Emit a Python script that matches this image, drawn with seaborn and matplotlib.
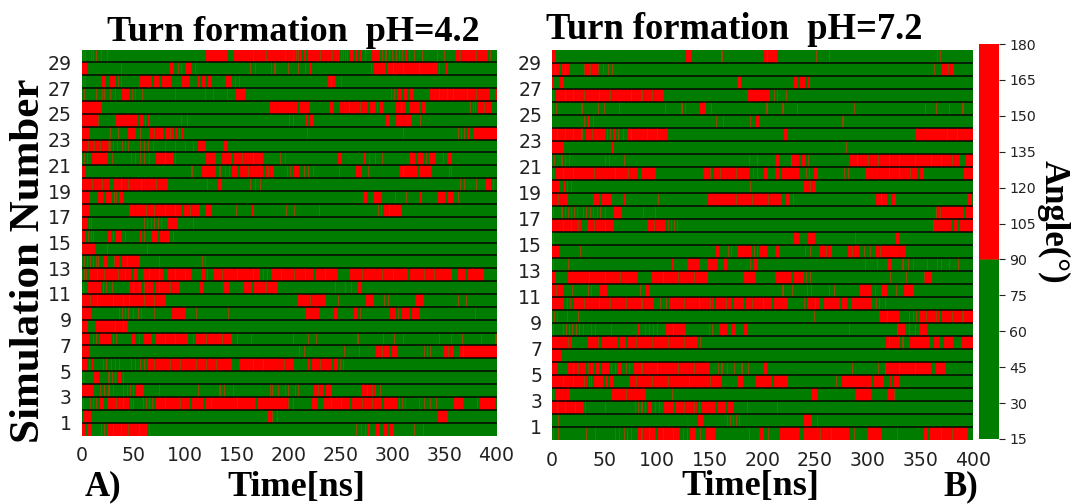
#!/usr/bin/env python3
"""Turn formation per simulation over time at two pH values."""

import matplotlib
matplotlib.use("Agg")
import matplotlib.pyplot as plt
import numpy as np
import seaborn as sns
from matplotlib.colors import LinearSegmentedColormap

# one list per simulation, top row first; (start, end) in ns are turn spans,
# a bare number is a short flicker around 90 degrees at that time
PH42_ROWS = [
    [1, 3.5, 9, 11, 14, 19, 25, (120, 141), (146, 207), 207.5, 209, (211, 213), (214, 216), (217, 249), 250, 252, 254, 256, (259, 262), (264, 266), (268, 270), 273, (279, 288), 290, 293, 296, 299, 303, 306, 309, (312, 314), 316, 320, 328, 343, 349, (360, 392), 394, 165, 178, 196, 204, 230, 241, 365, 380],
    [(0, 5), 38.5, (85, 89), 93, 96, (100, 106), 109, 162, 167, 183, 186, 199, 209.5, 215, (219, 221), 279, (281, 293), (294, 344), 345, (350, 353), 300, 310, 325],
    [1, 3, (19, 24), (27, 33), 35, 38, (55, 67.5), (70, 75), (78, 86), (96.5, 104.5), (111, 114), (116, 119), (122, 125), (138, 145), 148, 152, (237, 244), 250.5, 240],
    [2, 14, 20, 22, 27, 32, (39, 43), (43.5, 46), 49, 52, 58, 90, 119, 127, 140, (149.5, 157.5), 298, 301, (304.5, 308.5), (311.5, 314), (316, 319.5), (335, 394), (399, 400), 345, 352, 358, 372, 380],
    [(0, 20), (182, 188), (189.5, 208), (210, 213), (213.5, 219.5), (239.5, 242), (249, 251.5), (253, 276), (278, 284), 285, (287, 290.5), (303, 313), (316.5, 326), (328, 332), 374, 377, 379, (382, 395), 258, 268, 308, 388],
    [(0, 15), 16.5, (32, 54), (56, 59), 61, (63, 66), 96.5, 102, 200, 204, (216, 218), (220, 222.5), (293.5, 296.5), (303, 310), (311, 319), 326],
    [(0, 7), 27, 35.5, (45, 53), 56, (65, 79), (80, 88), (90, 92), 94, (96, 98), 217.5, 310, 363, 366, 369, (372, 374), (377.5, 400), 70, 85],
    [(0, 25), 26, 27.5, 30, 34, 39, 42, 45, 56, 60, 64, 69, 80, 90, 100, 107, (112.5, 119), (136, 140), 6, 12, 18],
    [2, 5, (10, 26), 29, 48, 52, 56, 60, 65, (72, 88), 90, (119, 130), (135, 145), (147, 175), 191, 196, (247, 250.5), (271, 274), 277, 283.5, 290, (316.5, 321), (324.5, 330), 332, (335, 342), 348, (352, 356.5), 80, 155, 165],
    [(0, 3), 106, (116, 130), 133, 138, 142, (145, 150), (153, 175), (177, 186), 198, 201, (204, 209.5), 214, 218, 223, 248, (265.5, 269), 276, (307, 323), (325.5, 337), 354, 356, 160, 180, 310],
    [(0, 27), (30, 50), (51.5, 63), (64, 83), 121, (132, 135), 162, 167, 172, 365, 369, 380, (389.5, 395), 397, 10, 20, 38, 45, 57, 72],
    [(0, 8), (16, 21), (24, 29), 31, 33, (36, 40), (271, 274.5), (281.5, 288.5), 302, 313, (325, 328), (343.5, 350), (353, 357.5), 363],
    [(0, 6.5), (46.5, 51.5), (53, 96.5), (98, 114), (119.5, 124.5), 149, (164, 166), 197, 205, 229, 286, 289, (292, 307.5), 62, 70, 80, 90, 105, 296],
    [(0, 6), 7, 9, 60, 63, 67, 70, 74, 77, (82.5, 91.5), 107],
    [(0, 4), 6, 9, 11, (26, 28), 30, (33, 39), 42, (56, 58), 60, (67.5, 74), (76, 84.5), 88],
    [(0, 13), 25, 63],
    [2, 5, 8, 11, 14, 16, (21, 25), 31, (33, 36), (39.5, 55.5), 75, 116, 119, 44],
    [2, 4, (7.5, 48), (50, 54), (59.5, 79), (82, 106), (116, 119), 121, (127, 172), 175, 179, (183, 223), (225, 246), (258.5, 315), (317.5, 356.5), (363, 369.5), (373.5, 387.5), 15, 22, 35, 42, 65, 75, 90, 100, 135, 150, 165, 192, 205, 215, 235, 270, 290, 300, 330, 340],
    [1, (5.5, 19), 21, 24, 29, (46.5, 58), 60, (62, 69), (71, 95), (114, 117), (136.5, 141.5), (157.5, 164), (166, 188.5), 244, 254, 260, (266, 269), 50, 55, 75, 85, 178],
    [(0, 50), (51.5, 81), (208.5, 235.5), 247, (273.5, 281.5), 292.5, 295, (321.5, 329.5), 363, 371, 8, 15, 30, 40, 46, 60, 70, 220],
    [(0, 8.5), 36, 39, 42, 45, 50, 54, 57, 70, (87, 101), 110, 141, (216.5, 229), (242.5, 245.5), (262.5, 265.5), 268, (297, 303), 305, (308, 316.5), (319, 326), 379],
    [(0, 5.5), (13, 45), 32, 40],
    [(0, 6.5), 11, 14, (17, 28), 30, 33, (48, 52), 55, (59, 67.5), (71, 103), 107, (109, 145), 150, 163, 204, 218, 226, 266, 291, 301, 310, 345, 356, 367, 385, 399, 80, 90, 120, 135],
    [(0, 6.5), 210, 214, 253, 267, (283.5, 295.5), (298.5, 304), 330, 333, 336, (348.5, 359), (364.5, 400), 290, 353, 368],
    [(0, 5), 7, (9, 10.5), 21, 24, 28, 32, 36, 48, 52, 56, 60, (63.5, 145), (152, 204.5), (217.5, 220), (222, 241), (242.5, 246.5), 249, 252, 70, 85, 95, 110, 120, 130, 165, 175, 195, 230],
    [1, (11, 17), 26, 29, 32, (35, 38), 40],
    [(0, 12), 18, 22, 26, 30, 40, 44, 47, 50, (53, 59.5), 75, 112, 133, 137, 146, 182, 184, 189, 196, 199, 206, 209, (223, 233), (236, 241), (270, 283.5), 288, 228, 275, 280],
    [1, 8, 11, 14, (18, 21.5), (25.5, 46), 48, 50, 59, 62, 65, 68, (72, 104.5), (106, 117), (119, 161), (162.5, 167), (169.5, 197.5), 199, 204, (222.5, 228), (233, 258.5), (260, 289), (292, 304), 306, 309, 312, 325, 330, 336, 342, (359, 368), 381, (384.5, 398.5), 33, 40, 80, 95, 125, 150, 240, 250, 270, 280],
    [(1.5, 9), (179.5, 183), 188, 184.5, (343, 352.5)],
    [(0, 3), (5.5, 8.5), 19, 22, (25.5, 50), (51.5, 62.5), 65, 265, 269, 273, (275, 278), (283.5, 287.5), (291.5, 295), (296, 300.5), 320, 329, 30, 38, 45, 55],
]

PH72_ROWS = [
    [(0, 3.5), (127.5, 132), 161, (201, 213.5), 251, 263, 366, 369, 204],
    [(0, 7), (9, 15.5), 30, (32, 42.5), 44, 48, 53, 57, 363, (371.5, 381.5), 3, 12, 36, 376],
    [(0, 2), (8, 11), (176, 179.5), (229.5, 234), (236, 240), (242, 244.5), 178],
    [1, (4, 106), (185, 207), 211, 214, 222, 12, 20, 30, 45, 55, 75, 85, 95],
    [1, 4, 28, 44, 49, 64, 107, 123, 126, (141.5, 146), 151, 204, 203, 219, 233, 287, 354, 365, 377, 390],
    [30, (33.5, 35.5), 39, 156, 162, 188, (194.5, 197), 276],
    [(0, 30), (32, 50), 52, 55, (58, 60), 63, 67, (71.5, 110), (220.5, 224), (345, 400), 5, 12, 20, 28, 38, 75, 90, 100, 375, 385],
    [(0, 11), (56.5, 58.5), 279],
    [2, 9, 12, 16, 50, 54, 68, 187, 195, (212, 215.5), 227, (228, 234.5), (237.5, 239.5), 243, (282, 388), (393.5, 400), 290, 300, 310, 320, 330, 345, 360, 370, 380],
    [1, (4, 82), (85, 99), (143, 152), (154, 186.5), 191, 195, (201, 205), (212, 217), (218.5, 234.5), 241, 244, (248, 252.5), 277, 281, (297.5, 310.5), (312, 347), (350, 353), (391, 400), 10, 20, 40, 60, 72, 150, 160, 175, 320, 330, 340],
    [(0, 7.5), (11, 12.5), 14, 18, 188, (239.5, 251), 245],
    [(0, 14.5), (39.5, 45.5), (47, 56.5), (67, 69.5), 101, (148.5, 166), (166, 218.5), (221.5, 225.5), 229, (308, 318), (323, 327), (394.5, 398.5), 6, 175, 190, 205, 313],
    [1, 9, 12, 15, 18, 21, 24, 29, 32, 36, 39, 43, 46, 50, (58.5, 66), 86, 98, 365, 369, (367.5, 390.5), (392, 400)],
    [(0, 5), (6, 28), (33, 58.5), (90.5, 106.5), 110, 113, 116, 119, 362, (363, 374.5), (375, 379), (382, 386), (387, 400), 10, 18, 25, 40, 50, 97],
    [1, (229, 236), (243, 250), 288, (326, 329.5)],
    [(0, 7), 27, (156, 159), 167, 170, (176, 183), (184, 190), 192, 195, (197, 204), (212, 216), 240, 245, (255, 266), (281, 291.5), 296, 302, (307, 329.5), (331, 334.5), 260, 285, 312],
    [1, 15, (114, 115.5), (128.5, 140.5), (147, 156.5), (163, 166), 188, (191, 196), 297, 309, (318.5, 323), 333, 338, 343, 356, 366, 370, 377, 386],
    [(0, 4), (15, 80.5), (95.5, 147.5), (182, 193), (212.5, 227), (230.5, 239), 241, 245, 321, 336, 353, (355.5, 361), 35, 50, 65, 105, 120, 135],
    [(0, 10), 19, 34, 37, (46.5, 51.5), 84, (88.5, 91.5), 219, 228, 242, 246, 263, 268, (293, 302.5), 307, (313.5, 317.5), 327, (334, 344), 4],
    [(0, 10), 14, 17, (21, 96.5), 103, 108, (111.5, 154), (156.5, 169.5), (173.5, 182), (184, 209), (211, 224), 239, (242, 255), (258, 274), (275.5, 279.5), (284, 304), 308, 311, 316, 30, 45, 55, 70, 85, 125, 140, 150, 165, 190, 200, 250],
    [2, 5, 14, 25, 249, (311.5, 329.5), 339, 343, 346, (349.5, 369), (370, 400), 318, 355, 365, 380, 390],
    [1, 10, 13, 16, 19, 23, 26, 29, 37, 41, 56, (81, 84), 88, 92, 96, 100, (107.5, 125.5), 149, 152, (159, 166), (170, 175), (182, 185.5), 282, 328, (328.5, 334.5), 339, 345, (349.5, 355.5), 115],
    [(0, 7), (8.5, 18.5), (34, 42.5), 44.5, (47, 62), (64.5, 70), (72.5, 137.5), 141, (317.5, 331), 333, (340.5, 359), (363.5, 369), (372, 381), (389.5, 400), 15, 80, 95, 110, 125, 320],
    [(0, 8.5)],
    [(0, 4.5), (14.5, 31.5), 34, (36, 39), (41.5, 46), (47, 54), 56, 60, (62, 66), 70, 73, (77.5, 148.5), 158, 161, 166, 173, 180, 186, (200, 204), 285, 310, 316, (317.5, 359.5), (364.5, 373), 20, 25, 85, 100, 120, 135, 330, 345],
    [(0, 33), 35, 37, (40, 48), (50, 53), (55, 58), (73.5, 161), (176, 181), (193, 209), (211, 224), 270, (276.5, 296.5), (298.5, 304), (305.5, 314.5), (321, 322), (325, 330), 10, 20, 30, 80, 95, 110, 130, 150],
    [1, (4.5, 11.5), (13.5, 17), (57.5, 89), 114.5, (247.5, 251.5), (288, 302.5), (318, 327), 70, 325],
    [(0, 30), 31, 50, 79, 82, 85, 88, (91, 95), 98, 102, (106, 115.5), (117, 137.5), 140, (142, 155), (157, 165), (167, 172.5), 185, 214, 5, 12, 22, 125, 135],
    [6, (128, 129), (139, 143), 166, 169, 172, 175, 178, (239, 246.5), 252],
    [1, 6, 32, 41, 60, 64, 68, 71, 75, (82, 98), (101, 121.5), 124, 128, (131, 137), 141, (146, 155), 187, (197.5, 201), 205, (217, 234.5), (239, 282), 287, (299, 312.5), 328, (353, 356.5), (358, 395), 85, 92, 105, 115, 255, 265, 370, 380],
]

PANEL_TITLES = ["Turn formation  pH=4.2", "Turn formation  pH=7.2"]
TIME_TICKS = [0, 50, 100, 150, 200, 250, 300, 350, 400]
SIM_TICKS = list(range(29, 0, -2))
ANGLE_TICKS = list(range(15, 181, 15))
OFF_ANGLE = 50.0
ON_ANGLE = 135.0
FLICKER_ANGLE = 90.0
VMIN, VMAX = 15, 180

W, H = 1072, 504
GREEN = "#007d00"
RED = "#ff0000"
BROWN = "#8f4a00"
SERIF = "Liberation Serif"


def build_matrix(rows):
    mat = np.full((len(rows), 400), OFF_ANGLE)
    for i, row in enumerate(rows):
        for item in row:
            if isinstance(item, tuple):
                mat[i, int(item[0]):int(np.ceil(item[1]))] = ON_ANGLE
        for item in row:
            if not isinstance(item, tuple):
                mat[i, int(item)] = FLICKER_ANGLE
    return mat


def angle_cmap():
    pos = lambda a: (a - VMIN) / (VMAX - VMIN)
    stops = [(0, GREEN), (pos(89.7), GREEN), (pos(90), BROWN), (pos(90.3), RED), (1, RED)]
    return LinearSegmentedColormap.from_list("turn", stops, N=1101)


def px_axes(fig, left, top, right, bottom):
    return fig.add_axes([left / W, 1 - bottom / H, (right - left) / W, (bottom - top) / H])


def draw_panel(ax, rows, **kws):
    sns.heatmap(build_matrix(rows), ax=ax, cmap=angle_cmap(), vmin=VMIN, vmax=VMAX,
                xticklabels=False, yticklabels=False, **kws)
    ax.hlines(range(1, len(rows)), 0, 400, color="#050505", lw=1.1)
    ax.set_xticks(TIME_TICKS)
    ax.set_xticklabels(TIME_TICKS, rotation=0)
    ax.set_yticks([len(rows) - s for s in SIM_TICKS])
    ax.set_yticklabels(SIM_TICKS, rotation=0)
    ax.tick_params(axis="x", length=3.6, width=0.8, labelsize=13.6, colors="#222222", pad=4)
    ax.tick_params(axis="y", length=3.6, width=0.8, labelsize=13.6, colors="#222222", pad=3.5)


def main() -> None:
    sns.set_theme(style="white")
    plt.rcParams["font.family"] = ["DejaVu Sans"]

    fig = plt.figure(figsize=(W / 100, H / 100), dpi=100)
    ax_a = px_axes(fig, 81.5, 49.5, 496.5, 435.5)
    ax_b = px_axes(fig, 552, 50, 973, 440)
    cax = px_axes(fig, 979, 44, 999, 439)

    draw_panel(ax_a, PH42_ROWS, cbar=False)
    draw_panel(ax_b, PH72_ROWS, cbar=True, cbar_ax=cax, cbar_kws={"ticks": ANGLE_TICKS})
    cax.tick_params(length=4.5, width=0.8, labelsize=10.2, colors="#222222", pad=3)

    text_kws = dict(family=SERIF, weight="bold", color="black", ha="center", va="baseline")
    fig.text(293.5 / W, 1 - 41 / H, PANEL_TITLES[0], fontsize=26, **text_kws)
    fig.text(734 / W, 1 - 39 / H, PANEL_TITLES[1], fontsize=26.3, **text_kws)
    fig.text(296.5 / W, 1 - 496 / H, "Time[ns]", fontsize=26, **text_kws)
    fig.text(750 / W, 1 - 495 / H, "Time[ns]", fontsize=26, **text_kws)
    fig.text(102.5 / W, 1 - 495 / H, "A)", fontsize=25, **text_kws)
    fig.text(960.5 / W, 1 - 495 / H, "B)", fontsize=25, **text_kws)

    side_kws = dict(text_kws, va="center")
    fig.text(29.5 / W, 1 - 260.5 / H, "Simulation Number", fontsize=31, rotation=90, **side_kws)
    fig.text(1053 / W, 1 - 222 / H, "Angle(°)", fontsize=25, rotation=270, **side_kws)

    fig.savefig("out.png", dpi=100)
    plt.close(fig)


if __name__ == "__main__":
    main()
